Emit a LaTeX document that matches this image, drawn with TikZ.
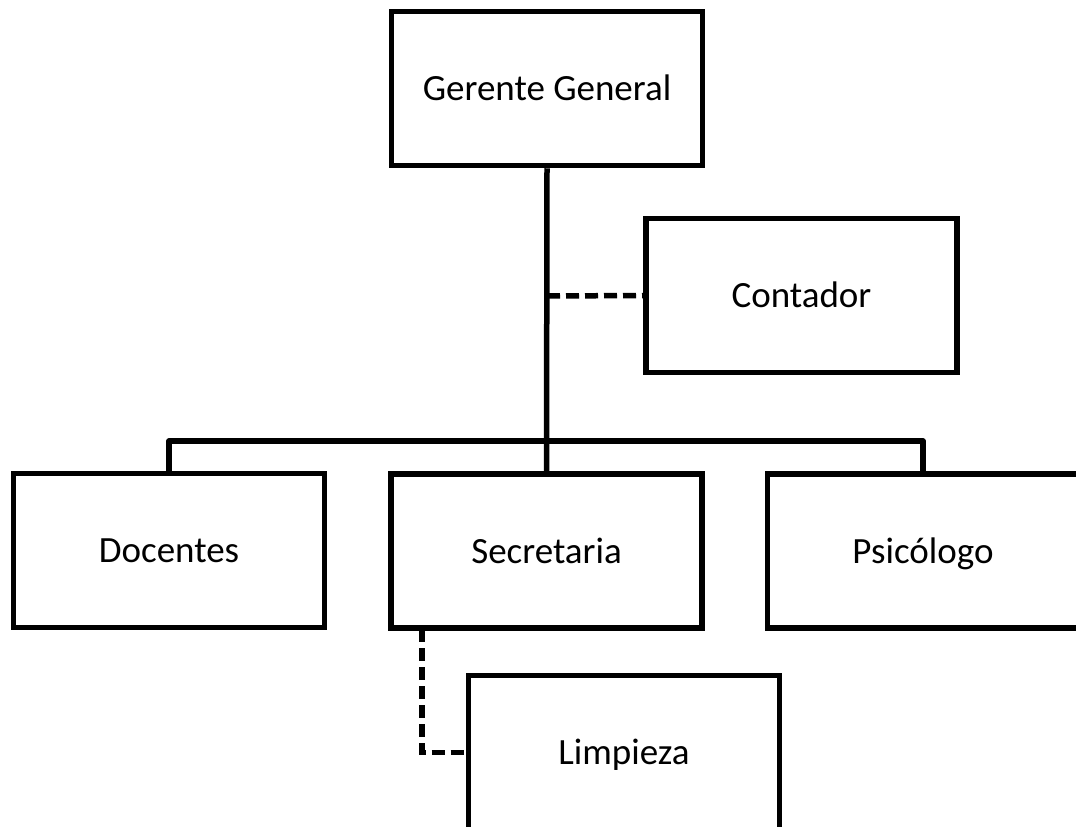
\documentclass[tikz,border=0pt]{standalone}
\usepackage{fontspec}
\setmainfont{Carlito}
\begin{document}
\begin{tikzpicture}[x=1pt,y=-1pt,
  box/.style={draw, line width=5.5pt, fill=white, minimum width=311pt,
    minimum height=154pt, inner sep=0pt, text height=24pt, text depth=0pt,
    font=\fontsize{37}{40}\selectfont},
  link/.style={line width=5.5pt},
  dotlink/.style={line width=5.5pt, dash pattern=on 13pt off 6pt}]
\useasboundingbox (0,0) rectangle (1076,827);
\fill[white] (0,0) rectangle (1076,827);

% junction points on the connector lines
\coordinate (bus) at (547,441);
\coordinate (tap) at (547,296);
\coordinate (sb) at (422,629);

\node[box] (ger) at (547,88.5) {Gerente General};
\node[box] (con) at (801.5,295.5) {Contador};
\node[box] (doc) at (169,550.5) {Docentes};
\node[box] (sec) at (546.5,551) {Secretaria};
\node[box] (psi) at (923,551) {Psicólogo};
\node[box] (lim) at (624,752.5) {Limpieza};

\draw[link] (ger.south) -- (sec.north);
\draw[link, line join=round] (doc.north) |- (bus) -| (psi.north);
\draw[dotlink] (tap) -- (con.west);
\draw[dotlink] (sb) |- (lim.west);
\end{tikzpicture}
\end{document}
